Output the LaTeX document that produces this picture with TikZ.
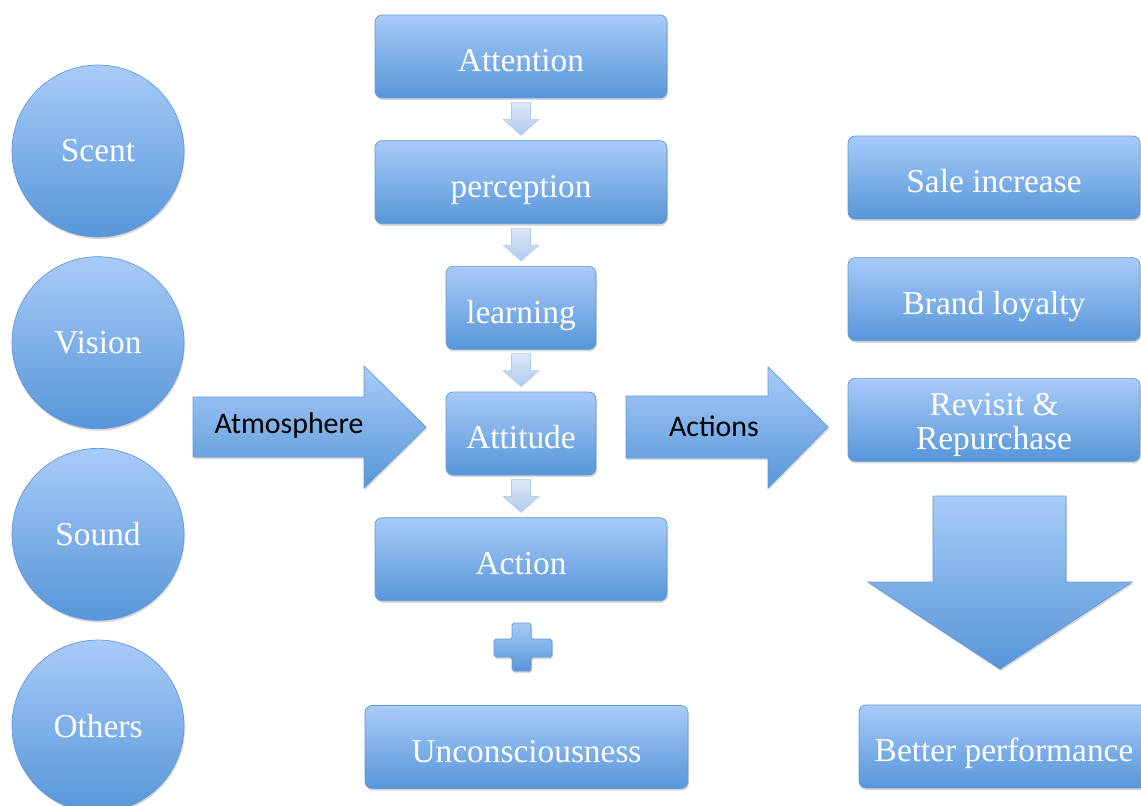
\documentclass[tikz,border=0pt]{standalone}
\usepackage{fontspec}
\setmainfont{Liberation Serif}
\newfontfamily\arrowfont{Carlito}
\usetikzlibrary{positioning,calc,shadows}
\definecolor{boxtop}{HTML}{A8CBF8}
\definecolor{boxbottom}{HTML}{5796D9}
\definecolor{boxedge}{HTML}{6199D6}
\definecolor{steptop}{HTML}{DCE8F7}
\definecolor{stepbottom}{HTML}{B0CAEC}
\tikzset{
	flow/.style={x=0.02cm,y=-0.02cm,node distance=0.84cm,
		font=\fontsize{19}{19}\selectfont},
	blue shade/.style={top color=boxtop,bottom color=boxbottom,draw=boxedge,line width=0.4pt,
		drop shadow={opacity=0.3,shadow xshift=0.5pt,shadow yshift=-1.2pt}},
	stage/.style={blue shade,rounded corners=4pt,minimum height=1.66cm,text=white,
		text height=19pt,text depth=1.5pt},
	wide stage/.style={stage,minimum width=5.84cm},
	narrow stage/.style={stage,minimum width=3cm},
	sense/.style={blue shade,circle,minimum size=3.44cm,text=white},
	block arrow/.style={blue shade},
	small step/.style={top color=steptop,bottom color=stepbottom,draw=stepbottom,line width=0.3pt},
	arrow label/.style={font=\arrowfont\fontsize{17}{17}\selectfont,text=black}
}
% light block arrow from the bottom of #1 to the top of #2
\newcommand{\stepdown}[2]{%
	\path[small step] ($(#1.south)+(-9.5,4)$) -- ($(#1.south)+(9.5,4)$)
		-- ($(#2.north)+(9.5,-21)$) -- ($(#2.north)+(18,-21)$) -- ($(#2.north)+(0,-5)$)
		-- ($(#2.north)+(-18,-21)$) -- ($(#2.north)+(-9.5,-21)$) -- cycle;}
\begin{document}
\begin{tikzpicture}[flow]
	\useasboundingbox (0,0) rectangle (1141,805);
	
	% senses
	\node[sense] (scent) at (98,151) {Scent};
	\node[sense] (vision) [below=0.38cm of scent] {Vision};
	\node[sense] (sound) [below=0.38cm of vision] {Sound};
	\node[sense] (others) [below=0.38cm of sound] {Others};
	
	% response chain
	\node[wide stage] (attention) at (521,56.5) {Attention};
	\node[wide stage] (perception) [below= of attention] {perception};
	\node[narrow stage] (learning) [below= of perception] {learning};
	\node[narrow stage] (attitude) [below= of learning] {Attitude};
	\node[wide stage] (action) [below= of attitude] {Action};
	\node[stage, minimum width=6.46cm] (uncon) at (526.5,747) {Unconsciousness};
	
	\stepdown{attention}{perception}
	\stepdown{perception}{learning}
	\stepdown{learning}{attitude}
	\stepdown{attitude}{action}
	
	\path[block arrow, rounded corners=1pt] (512,623) -- (531,623) -- (531,639) -- (552,639)
		-- (552,657) -- (531,657) -- (531,671) -- (512,671) -- (512,657) -- (494,657)
		-- (494,639) -- (512,639) -- cycle;
	
	% outcomes
	\node[wide stage] (sale) at (994,177.5) {Sale increase};
	\node[wide stage] (brand) [below=0.76cm of sale] {Brand loyalty};
	\node[wide stage, text height=, text depth=,
		label={[text=white,align=center,yshift=-0.1cm]center:Revisit \&\\Repurchase}]
		(revisit) [below=0.74cm of brand] {};
	\node[stage, minimum width=5.8cm] (better) at (1004,746.5) {Better performance};
	
	% big arrows
	\path[block arrow] (193,397) -- (364,397) -- (364,366) -- (426,427) -- (364,488)
		-- (364,457) -- (193,457) -- cycle;
	\node[arrow label] (atmosphere) at (289,426) {Atmosphere};
	
	\path[block arrow] (626,396) -- (768,396) -- (768,367) -- (828,427) -- (768,488)
		-- (768,458) -- (626,458) -- cycle;
	\node[arrow label] (actions) at (714,426) {Actions};
	
	\path[block arrow] (933,496) -- (1066,496) -- (1066,582) -- (1132,582) -- (1000,669)
		-- (868,582) -- (933,582) -- cycle;
	
\end{tikzpicture}
\end{document}
